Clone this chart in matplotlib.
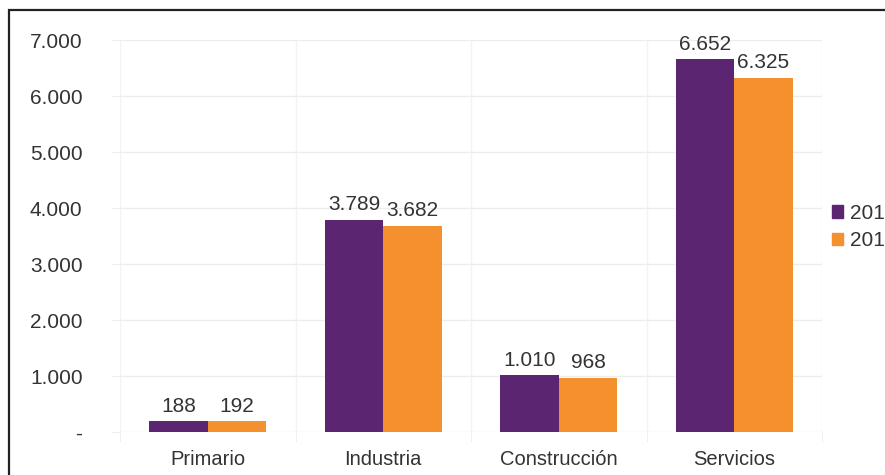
import matplotlib
matplotlib.use("Agg")
import matplotlib.pyplot as plt
from matplotlib.patches import Rectangle
import numpy as np

categories = ["Primario", "Industria", "Construcción", "Servicios"]
series_names = ["2018", "2017"]
values_2018 = [188, 3789, 1010, 6652]
values_2017 = [192, 3682, 968, 6325]
y_ticks = [0, 1000, 2000, 3000, 4000, 5000, 6000, 7000]

purple = "#5C2572"
orange = "#F4902D"
grid_c = "#EDEDED"
text_c = "#333333"

plt.rcParams['font.family'] = ['Liberation Sans', 'DejaVu Sans']

W, H = 885, 475
fig = plt.figure(figsize=(W / 100, H / 100), dpi=100)
ax = fig.add_axes([120 / W, 1 - 432 / H, (822 - 120) / W, (432 - 40) / H])

x = np.arange(len(categories))
bw = 0.333
b1 = ax.bar(x - bw / 2, values_2018, bw, color=purple, label=series_names[0], zorder=3)
b2 = ax.bar(x + bw / 2, values_2017, bw, color=orange, label=series_names[1], zorder=3)

def fmt(v):
    return "-" if v == 0 else f"{v:,}".replace(",", ".")

for bars, vals in ((b1, values_2018), (b2, values_2017)):
    for rect, v in zip(bars, vals):
        ax.annotate(fmt(v), (rect.get_x() + rect.get_width() / 2, rect.get_height()),
                    xytext=(0, 4), textcoords="offset points", ha="center", va="bottom",
                    fontsize=15, color=text_c, zorder=4)

ax.set_xlim(-0.5, len(categories) - 0.5)
ax.set_ylim(0, 7000)
ax.set_yticks(y_ticks)
ax.set_yticklabels([fmt(v) for v in y_ticks], fontsize=15, color=text_c)
ax.set_xticks(x)
ax.set_xticklabels(categories, fontsize=14.5, color=text_c)
ax.set_xticks(np.arange(len(categories) + 1) - 0.5, minor=True)

ax.tick_params(axis="y", length=6, color=grid_c, pad=21)
ax.tick_params(axis="x", which="major", length=0, pad=13)
ax.tick_params(axis="x", which="minor", length=7, color=grid_c)
ax.grid(axis="y", color=grid_c, linewidth=1, zorder=0)
ax.grid(axis="x", which="minor", color="#F3F3F3", linewidth=1, zorder=0)
for s in ax.spines.values():
    s.set_visible(False)

handles = [Rectangle((0, 0), 1, 1, color=purple), Rectangle((0, 0), 1, 1, color=orange)]
fig.legend(handles, series_names, loc="center left", bbox_to_anchor=(832 / W, 1 - 227 / H),
           frameon=False, fontsize=15, handlelength=0.55, handleheight=0.55,
           handletextpad=0.3, labelspacing=0.4, labelcolor=text_c, borderpad=0,
           borderaxespad=0)

fig.add_artist(Rectangle((9 / W, -0.1), 1.2, 1.1 - 10 / H, transform=fig.transFigure,
                         fill=False, edgecolor="#222222", linewidth=1.6, clip_on=False))

fig.savefig("out.png", dpi=100)
